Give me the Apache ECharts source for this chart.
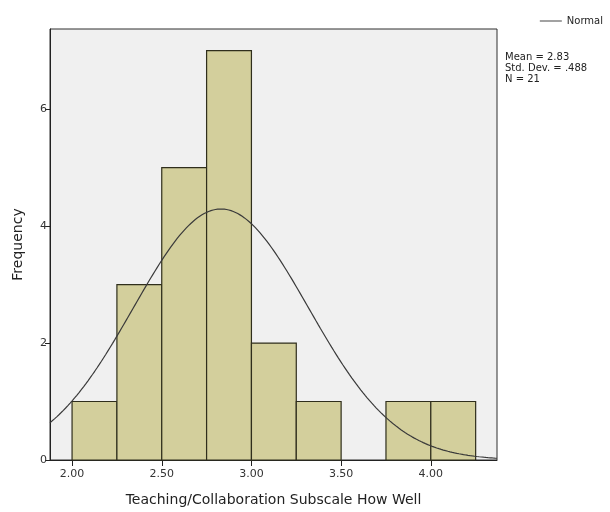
<!DOCTYPE html>
<html>
<head>
<meta charset="utf-8">
<script src="https://cdn.jsdelivr.net/npm/echarts@6/dist/echarts.min.js"></script>
<style>
  html, body { margin: 0; padding: 0; background: #ffffff; }
  #chart { width: 610px; height: 512px; }
</style>
</head>
<body>
<div id="chart"></div>
<script>
// Histogram bins (lower edge of each bin) and their frequencies
var binStarts = [2.00, 2.25, 2.50, 2.75, 3.00, 3.25, 3.50, 3.75, 4.00];
var binCounts = [1, 3, 5, 7, 2, 1, 0, 1, 1];
var binWidth = 0.25;

// Summary statistics shown beside the plot
var mean = 2.83;
var stdDev = 0.488;
var n = 21;

// Axis tick labels
var xTicks = [2.00, 2.50, 3.00, 3.50, 4.00];
var yTicks = [0, 2, 4, 6];

var xMin = 1.877, xMax = 4.369;
var yMax = 7.37;

// Normal curve scaled to frequency: N * binWidth * pdf(x)
var curve = [];
var steps = 200;
for (var i = 0; i <= steps; i++) {
  var x = xMin + (xMax - xMin) * i / steps;
  var z = (x - mean) / stdDev;
  var y = n * binWidth * Math.exp(-0.5 * z * z) / (stdDev * Math.sqrt(2 * Math.PI));
  curve.push([x, y]);
}

var bars = binStarts.map(function (s, i) { return [s, s + binWidth, binCounts[i]]; })
  .filter(function (d) { return d[2] > 0; });

var font = '"DejaVu Sans", "Liberation Sans", sans-serif';

var chart = echarts.init(document.getElementById('chart'), null, { renderer: 'canvas' });
chart.setOption({
  animation: false,
  backgroundColor: '#ffffff',
  textStyle: { fontFamily: font },
  grid: {
    left: 50, top: 29, width: 447, height: 433,
    show: true, backgroundColor: '#f0f0f0', borderColor: '#2e2e2e', borderWidth: 1
  },
  legend: {
    right: 2, top: 11,
    itemWidth: 22, itemHeight: 1, itemGap: 4,
    textStyle: { fontSize: 10, color: '#222', fontFamily: font },
    data: [{ name: 'Normal', icon: 'rect', itemStyle: { color: '#444444' } }]
  },
  graphic: [{
    type: 'text', left: 505, top: 52,
    style: {
      text: 'Mean = ' + mean.toFixed(2) + '\nStd. Dev. = .' + String(stdDev.toFixed(3)).split('.')[1] + '\nN = ' + n,
      font: '10px ' + font, fill: '#222', lineHeight: 11
    }
  }],
  xAxis: {
    type: 'value', min: xMin, max: xMax,
    name: 'Teaching/Collaboration Subscale How Well',
    nameLocation: 'middle', nameGap: 33,
    nameTextStyle: { fontSize: 14, color: '#222', fontFamily: font },
    splitLine: { show: false },
    axisLine: { show: true, onZero: false, lineStyle: { color: '#222', width: 1 } },
    axisTick: { show: true, length: 6, customValues: xTicks, lineStyle: { color: '#222' } },
    axisLabel: {
      customValues: xTicks, fontSize: 11, color: '#333', margin: 9,
      formatter: function (v) { return v.toFixed(2); }
    }
  },
  yAxis: {
    type: 'value', min: 0, max: yMax,
    name: 'Frequency', nameLocation: 'middle', nameGap: 25, nameRotate: 90,
    nameTextStyle: { fontSize: 14, color: '#222', fontFamily: font },
    splitLine: { show: false },
    axisLine: { show: true, lineStyle: { color: '#222', width: 1 } },
    axisTick: { show: true, length: 5, customValues: yTicks, lineStyle: { color: '#222' } },
    axisLabel: { customValues: yTicks, fontSize: 11, color: '#333', margin: 3 }
  },
  series: [{
    name: 'bars',
    type: 'custom',
    data: bars,
    encode: { x: [0, 1], y: 2 },
    renderItem: function (params, api) {
      var p0 = api.coord([api.value(0), api.value(2)]);
      var p1 = api.coord([api.value(1), 0]);
      return {
        type: 'rect',
        shape: { x: p0[0], y: p0[1], width: p1[0] - p0[0], height: p1[1] - p0[1] },
        style: { fill: '#d3cf9c', stroke: '#2f2e1c', lineWidth: 1.2 }
      };
    }
  }, {
    name: 'Normal',
    type: 'line',
    data: curve,
    showSymbol: false,
    smooth: false,
    lineStyle: { color: '#3a3a3a', width: 1.2 },
    itemStyle: { color: '#444444' },
    z: 5
  }]
});
</script>
</body>
</html>
